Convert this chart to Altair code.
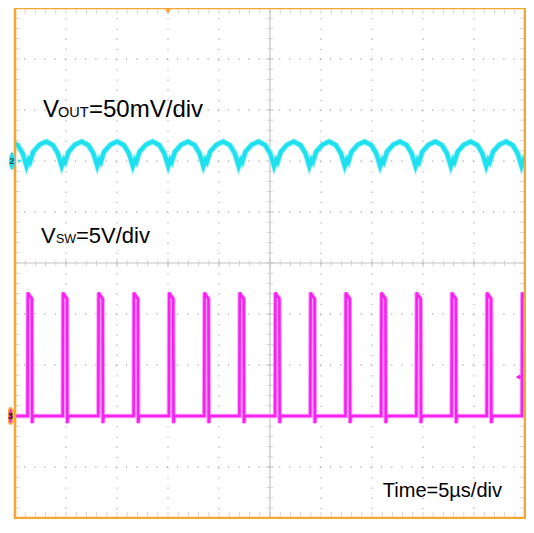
import altair as alt
import pandas as pd

# ---- data ----
# time axis: 10 div x 5 us ; vertical: 10 div (values in divisions)
time_domain = [0, 50]
div_domain = [-5, 5]

# SW node (ch3): rising-edge times (us) and one pulse shape (offset us, level div)
sw_rise_us = [1.23, 4.68, 8.17, 11.63, 15.09, 18.55, 22.0, 25.5, 28.95, 32.4,
              35.9, 39.35, 42.8, 46.25, 49.7]
sw_pulse_offset = [0.0, 0.03, 0.12, 0.42, 0.45, 0.52]
sw_pulse_level = [-3.0, -0.58, -0.62, -0.70, -3.14, -3.0]
sw_low = -3.0

# VOUT ripple (ch2): trough times (us) and one ripple cycle (phase, level div)
vout_trough_us = [-2.33, 1.13, 4.58, 8.07, 11.55, 15.02, 18.47, 21.93, 25.4,
                  28.86, 32.33, 35.8, 39.27, 42.73, 46.2, 49.66, 53.12]
vout_phase = [0.0, 0.06, 0.10, 0.19, 0.37, 0.56, 0.75, 0.89]
vout_level = [1.90, 2.02, 1.98, 2.18, 2.32, 2.38, 2.31, 2.15]

major_x = [5, 10, 15, 20, 30, 35, 40, 45]
major_y = [-4, -3, -2, -1, 1, 2, 3, 4]
minor_x = [i * 1.0 for i in range(51)]
minor_y = [round(-5 + i * 0.2, 2) for i in range(51)]
center_major_x = [0, 5, 10, 15, 20, 25, 30, 35, 40, 45, 50]
center_major_y = [-5, -4, -3, -2, -1, 0, 1, 2, 3, 4, 5]

# ---- tables ----
sw_rows = [{"t": 0.0, "v": sw_low}]
for t0 in sw_rise_us:
    for off, lev in zip(sw_pulse_offset, sw_pulse_level):
        sw_rows.append({"t": t0 + off, "v": lev})
sw_df = pd.DataFrame(sw_rows)

vo_rows = []
for a, b in zip(vout_trough_us[:-1], vout_trough_us[1:]):
    for ph, lev in zip(vout_phase, vout_level):
        vo_rows.append({"t": a + ph * (b - a), "v": lev})
vo_rows.append({"t": vout_trough_us[-1], "v": vout_level[0]})
vo_df = pd.DataFrame(vo_rows)

xs = alt.Scale(domain=time_domain, nice=False, zero=False)
ys = alt.Scale(domain=div_domain, nice=False, zero=False)

W, H = 510, 510
GRID = "#b8b8b8"
AXC = "#c4c4c4"
ORANGE = "#F5A633"
CYAN = "#1FE0EE"
MAG = "#F522F0"
FONT = "Liberation Sans"

X = lambda f: alt.X(f, type="quantitative", scale=xs, axis=None)
Y = lambda f: alt.Y(f, type="quantitative", scale=ys, axis=None)

grid_v = alt.Chart(pd.DataFrame({"x": major_x})).mark_rule(
    color=GRID, strokeWidth=1.3, strokeDash=[1.3, 8.9]).encode(x=X("x"))
grid_h = alt.Chart(pd.DataFrame({"y": major_y})).mark_rule(
    color=GRID, strokeWidth=1.3, strokeDash=[1.3, 8.9]).encode(y=Y("y"))

center_v = alt.Chart(pd.DataFrame({"x": [25]})).mark_rule(
    color=AXC, strokeWidth=1.2).encode(x=X("x"))
center_h = alt.Chart(pd.DataFrame({"y": [0]})).mark_rule(
    color=AXC, strokeWidth=1.2).encode(y=Y("y"))

mx = pd.DataFrame({"x": minor_x})
my = pd.DataFrame({"y": minor_y})
cmx = pd.DataFrame({"x": center_major_x})
cmy = pd.DataFrame({"y": center_major_y})

tick_ch = alt.Chart(mx).mark_tick(orient="vertical", size=6, thickness=1, color=AXC).encode(
    x=X("x"), y=alt.YDatum(0, scale=ys, axis=None))
tick_cv = alt.Chart(my).mark_tick(orient="horizontal", size=6, thickness=1, color=AXC).encode(
    y=Y("y"), x=alt.XDatum(25, scale=xs, axis=None))
tick_chM = alt.Chart(cmx).mark_tick(orient="vertical", size=9, thickness=1, color=AXC, clip=True).encode(
    x=X("x"), y=alt.YDatum(0, scale=ys, axis=None))
tick_cvM = alt.Chart(cmy).mark_tick(orient="horizontal", size=9, thickness=1, color=AXC, clip=True).encode(
    y=Y("y"), x=alt.XDatum(25, scale=xs, axis=None))

tick_top = alt.Chart(mx).mark_tick(orient="vertical", size=12, thickness=1, color=AXC, clip=True).encode(
    x=X("x"), y=alt.YDatum(5, scale=ys, axis=None))
tick_bot = alt.Chart(mx).mark_tick(orient="vertical", size=12, thickness=1, color=AXC, clip=True).encode(
    x=X("x"), y=alt.YDatum(-5, scale=ys, axis=None))
tick_left = alt.Chart(my).mark_tick(orient="horizontal", size=10, thickness=1, color=AXC, clip=True).encode(
    y=Y("y"), x=alt.XDatum(0, scale=xs, axis=None))
tick_right = alt.Chart(my).mark_tick(orient="horizontal", size=10, thickness=1, color=AXC, clip=True).encode(
    y=Y("y"), x=alt.XDatum(50, scale=xs, axis=None))

sw_halo = alt.Chart(sw_df).mark_line(color="#FF9CFF", strokeWidth=4.5, clip=True,
                                      strokeJoin="miter").encode(x=X("t"), y=Y("v"), order="t:Q")
sw_line = alt.Chart(sw_df).mark_line(color=MAG, strokeWidth=2.6, clip=True,
                                      strokeJoin="miter").encode(x=X("t"), y=Y("v"), order="t:Q")
vo_halo = alt.Chart(vo_df).mark_line(color="#9FF4FA", strokeWidth=6, clip=True).encode(
    x=X("t"), y=Y("v"), order="t:Q")
vo_line = alt.Chart(vo_df).mark_line(color=CYAN, strokeWidth=4.2, clip=True).encode(
    x=X("t"), y=Y("v"), order="t:Q")

one = pd.DataFrame({"a": [0]})
frame = alt.Chart(one).mark_rect(fill=None, stroke=ORANGE, strokeWidth=2.6).encode(
    x=alt.value(0), x2=alt.value(W), y=alt.value(0), y2=alt.value(H))

trig = alt.Chart(one).mark_point(shape="triangle-down", filled=True, color=ORANGE,
                                 size=45, opacity=1).encode(
    x=alt.XDatum(15, scale=xs, axis=None), y=alt.value(3))
lvl = alt.Chart(one).mark_point(shape="triangle-left", filled=True, color=MAG,
                                size=28, opacity=1).encode(x=alt.value(503), y=alt.value(369))
lvl_line = alt.Chart(one).mark_rule(color=MAG, strokeWidth=1.5).encode(
    x=alt.value(503), x2=alt.value(508), y=alt.value(369))

ELL = "M0,-1 C0.4,-1 0.4,1 0,1 C-0.4,1 -0.4,-1 0,-1 Z"
m2 = alt.Chart(one).mark_point(shape=ELL, filled=True, fill=CYAN, stroke="#7CCFD6",
                               strokeWidth=1, size=289, opacity=1).encode(
    x=alt.value(-3), y=alt.YDatum(2, scale=ys, axis=None))
m2t = alt.Chart(one).mark_text(text="2", fontSize=9, font=FONT, color="#16545A",
                               fontWeight="bold").encode(
    x=alt.value(-3), y=alt.YDatum(2, scale=ys, axis=None))
m2a = alt.Chart(one).mark_point(shape="triangle-right", filled=True, color=CYAN,
                                size=16, opacity=1).encode(
    x=alt.value(5), y=alt.YDatum(2, scale=ys, axis=None))
m3 = alt.Chart(one).mark_point(shape=ELL, filled=True, fill=MAG, stroke=ORANGE,
                               strokeWidth=1.8, size=256, opacity=1).encode(
    x=alt.value(-4.5), y=alt.YDatum(-3, scale=ys, axis=None))
m3t = alt.Chart(one).mark_text(text="3", fontSize=9, font=FONT, color="#3A0A3A",
                               fontWeight="bold").encode(
    x=alt.value(-4.5), y=alt.YDatum(-3, scale=ys, axis=None))


def txt(s, x, y, size, align="left"):
    return alt.Chart(one).mark_text(text=s, align=align, baseline="alphabetic",
                                    fontSize=size, font=FONT, color="#000000").encode(
        x=alt.value(x), y=alt.value(y))


labels = [
    txt("V", 28, 109, 24), txt("OUT", 43, 109, 14.5), txt("=50mV/div", 74, 109, 24),
    txt("V", 26, 235, 22), txt("SW", 41, 235, 12.5), txt("=5V/div", 61, 235, 22),
    txt("Time=5µs/div", 487, 489, 20, align="right"),
]

chart = alt.layer(
    grid_v, grid_h, center_v, center_h,
    tick_ch, tick_cv, tick_chM, tick_cvM,
    tick_top, tick_bot, tick_left, tick_right,
    vo_halo, vo_line, sw_halo, sw_line,
    frame, trig, lvl, lvl_line,
    *labels,
    m2a, m2, m2t, m3, m3t,
).properties(
    width=W, height=H,
    padding={"left": 7, "top": 0, "right": 1, "bottom": 1},
    autosize=alt.AutoSizeParams(type="none"),
    background="white",
).configure_view(stroke=None)

chart.save("out.html", embed_options={"renderer": "svg", "actions": False})
